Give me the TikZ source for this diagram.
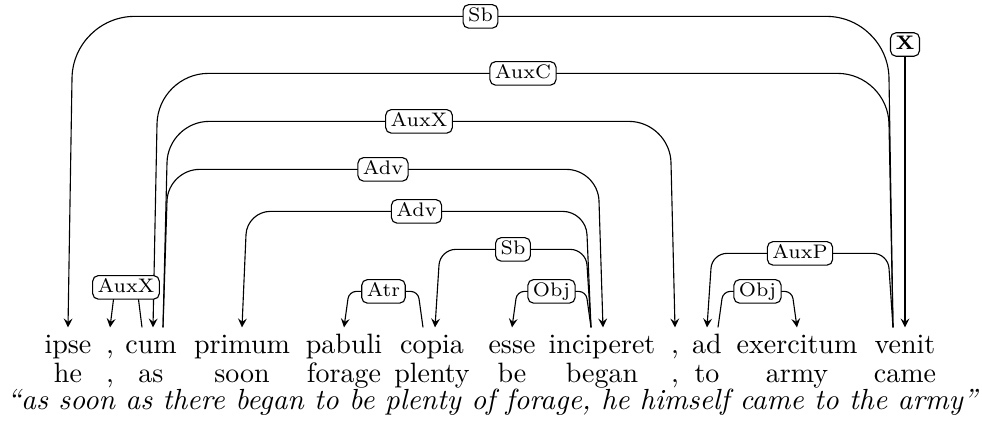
\documentclass[tikz,border=0pt]{standalone}
\usetikzlibrary{calc}

\tikzset{
  word/.style={anchor=base, inner sep=0pt, text height=9.3pt},
  gloss/.style={anchor=base, inner sep=0pt},
  deplabel/.style={draw, fill=white, rounded corners=2pt, inner xsep=1.8pt, inner ysep=1.1pt,
    text height=5pt, text depth=1.2pt, font=\fontsize{7}{8}\selectfont},
  deparc/.style={->, rounded corners=#1},
}

\begin{document}
\begin{tikzpicture}[>=stealth, x=0.357pt, y=-0.357pt]
    \useasboundingbox (0,0) rectangle (982,428);

    % Latin sentence
    \node[word] (ipse) at (68,354) {ipse};
    \node[word] (comA) at (110,354) {,};
    \node[word] (cum) at (151,354) {cum};
    \node[word] (primum) at (242,354) {primum};
    \node[word] (pabuli) at (344,354) {pabuli};
    \node[word] (copia) at (432,354) {copia};
    \node[word] (esse) at (512,354) {esse};
    \node[word] (inciperet) at (602,354) {inciperet};
    \node[word] (comB) at (675,354) {,};
    \node[word] (ad) at (707,354) {ad};
    \node[word] (exercitum) at (797,354) {exercitum};
    \node[word] (venit) at (905,354) {venit};

    % glosses
    \node[gloss] (he) at (68,383) {he};
    \node[gloss] (glA) at (110,383) {,};
    \node[gloss] (as) at (151,383) {as};
    \node[gloss] (soon) at (242,383) {soon};
    \node[gloss] (forage) at (344,383) {forage};
    \node[gloss] (plenty) at (432,383) {plenty};
    \node[gloss] (be) at (512,383) {be};
    \node[gloss] (began) at (602,383) {began};
    \node[gloss] (glB) at (675,383) {,};
    \node[gloss] (to) at (707,383) {to};
    \node[gloss] (army) at (797,383) {army};
    \node[gloss] (came) at (905,383) {came};

    % translation
    \node[gloss, font=\fontsize{10.4}{12}\selectfont\itshape] (trans) at (492,410)
        {“as soon as there began to be plenty of forage, he himself came to the army”};

    % root
    \node[deplabel, font=\fontsize{7}{8}\selectfont\bfseries] (root) at (905,44.5) {X};
    \draw[->] (root) -- (venit.north);

    % venit
    \draw[deparc=22pt] ($(venit.north)+(-12,0)$) -- ($(venit.north)+(-17,-311)$)
        -- node[deplabel] {Sb} ($(ipse.north)+(5,-311)$) -- (ipse.north);
    \draw[deparc=18pt] ($(venit.north)+(-12,0)$) -- ($(venit.north)+(-17,-254)$)
        -- node[deplabel] {AuxC} ($(cum.north)+(7,-254)$) -- ($(cum.north)+(2,0)$);
    \draw[deparc=5.3pt] ($(venit.north)+(-12,0)$) -- ($(venit.north)+(-17,-74)$)
        -- node[deplabel] {AuxP} ($(ad.north)+(5,-74)$) -- (ad.north);

    % cum
    \draw[deparc=14.7pt] ($(cum.north)+(12,0)$) -- ($(cum.north)+(17,-206)$)
        -- node[deplabel] {AuxX} ($(comB.north)+(-5,-206)$) -- (comB.north);
    \draw[deparc=11.3pt] ($(cum.north)+(12,0)$) -- ($(cum.north)+(17,-158)$)
        -- node[deplabel] {Adv} ($(inciperet.north)+(-4,-158)$) -- ($(inciperet.north)+(1,0)$);
    \draw[deparc=2.9pt] ($(cum.north)+(-9,0)$) -- ($(cum.north)+(-14,-40)$)
        -- node[deplabel] {AuxX} ($(comA.north)+(5,-40)$) -- (comA.north);

    % inciperet
    \draw[deparc=8.3pt] ($(inciperet.north)+(-11,0)$) -- ($(inciperet.north)+(-16,-116)$)
        -- node[deplabel] {Adv} ($(primum.north)+(5,-116)$) -- (primum.north);
    \draw[deparc=5.6pt] ($(inciperet.north)+(-11,0)$) -- ($(inciperet.north)+(-16,-78)$)
        -- node[deplabel] {Sb} ($(copia.north)+(8,-78)$) -- ($(copia.north)+(3,0)$);
    \draw[deparc=2.6pt] ($(inciperet.north)+(-11,0)$) -- ($(inciperet.north)+(-16,-36)$)
        -- node[deplabel] {Obj} ($(esse.north)+(5,-36)$) -- (esse.north);

    % copia, ad
    \draw[deparc=2.6pt] ($(copia.north)+(-9,0)$) -- ($(copia.north)+(-14,-36)$)
        -- node[deplabel] {Atr} ($(pabuli.north)+(5,-36)$) -- (pabuli.north);
    \draw[deparc=2.6pt] ($(ad.north)+(11,0)$) -- ($(ad.north)+(16,-36)$)
        -- node[deplabel] {Obj} ($(exercitum.north)+(-5,-36)$) -- (exercitum.north);
\end{tikzpicture}
\end{document}
